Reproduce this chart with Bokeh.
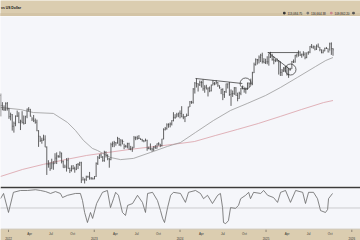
import pandas as pd
from bokeh.plotting import figure
from bokeh.models import Range1d, ColumnDataSource, Span
from bokeh.layouts import column
from bokeh.embed import file_html
from bokeh.resources import INLINE
from bokeh.core.properties import value

# ---------------- data (prices in thousands of USD, weekly bars) ----------------
first_week = "2021-11-29"
first_open = 57.3
close = [
    49.4, 46.7, 46.7, 50.8, 47.3,
    41.9, 43.1, 36.3, 37.9, 42.2, 42.2, 38.3, 39.1, 38.4, 37.8, 42.2, 46.8, 46.4,
    42.1, 40.4, 39.4, 38.5, 34.0, 31.3, 29.4, 29.4, 29.9, 26.6, 20.6, 20.7, 19.3,
    20.8, 20.8, 22.6, 23.3, 23.2, 24.4, 21.5, 19.6, 19.8, 21.8, 19.4, 18.8, 19.3,
    19.4, 19.2, 20.6, 20.6, 21.1, 16.3, 16.3, 16.5, 17.1, 17.1, 16.8, 16.8, 16.6,
    17.2, 20.9, 22.7, 23.7, 22.9, 21.8, 24.6, 23.6, 22.4, 22.1, 27.6, 28.0, 28.5,
    28.3, 30.3, 27.6, 29.2, 28.9, 26.9, 26.9, 28.0, 25.8, 25.9, 26.3, 30.5, 30.6,
    30.2, 30.3, 29.8, 29.3, 29.1, 29.4, 26.1, 26.0, 25.9, 25.8, 26.5, 26.2, 28.0,
    27.9, 27.2, 30.0, 34.5, 35.0, 37.1, 37.4, 37.5, 39.5, 41.4, 41.4, 43.0, 44.2,
    43.9, 41.7, 41.6, 42.0, 42.6, 48.3, 52.1, 51.7, 63.1, 68.9, 68.4, 67.2, 69.6,
    69.4, 63.4, 64.9, 63.1, 63.9, 61.5, 66.9, 68.5, 67.8, 69.6, 66.6, 64.3, 62.7,
    58.0, 60.7, 68.2, 68.2, 58.1, 58.7, 59.0, 64.2, 57.3, 54.8, 59.2, 63.6, 65.6,
    62.9, 62.9, 69.0, 68.2, 68.8, 80.4, 90.6, 97.7, 97.2, 101.2, 104.3, 95.1, 93.4,
    94.6,
    94.5, 101.3, 102.6, 97.7, 96.5, 96.1, 95.8, 94.3, 80.7, 82.6, 86.1, 82.3, 78.4,
    83.7, 85.2, 94.7, 94.3, 104.1, 106.5, 109.0, 104.6, 105.7, 105.6, 100.9, 108.4,
    109.2, 119.1, 117.3, 119.4, 114.1, 119.3, 117.4, 113.5, 108.2, 111.1, 115.3,
    115.2, 109.6, 123.5, 115.0, 113.1,
]
high = [
    59.0, 51.9, 49.5, 51.8, 52.0,
    47.6, 44.4, 43.5, 38.9, 42.6, 45.8, 44.7, 40.0, 45.4, 42.6, 42.3, 47.2, 48.2,
    47.0, 41.5, 42.9, 40.7, 40.0, 34.2, 31.3, 30.6, 32.0, 31.7, 26.9, 21.9, 21.2,
    22.4, 21.6, 24.3, 24.6, 23.6, 25.0, 24.5, 21.8, 20.5, 22.6, 22.7, 19.6, 20.3,
    20.4, 19.9, 20.7, 21.0, 21.4, 21.4, 17.1, 16.7, 17.4, 17.4, 18.4, 17.0, 16.9,
    17.3, 21.2, 23.3, 23.9, 24.2, 23.3, 25.2, 25.0, 23.9, 22.6, 28.4, 28.9, 29.2,
    28.6, 31.0, 30.5, 30.0, 29.8, 28.0, 27.5, 28.4, 28.4, 27.1, 26.8, 31.4, 31.2,
    31.5, 31.8, 30.3, 30.1, 29.5, 30.2, 29.7, 26.8, 28.1, 26.4, 27.0, 27.4, 28.1,
    28.6, 27.9, 30.1, 35.2, 35.9, 37.9, 37.9, 38.4, 39.7, 44.7, 43.4, 44.3, 44.3,
    45.9, 48.9, 43.6, 42.2, 43.8, 48.6, 52.8, 52.9, 64.0, 70.0, 73.8, 68.8, 71.6,
    71.3, 72.8, 66.8, 67.2, 64.7, 65.5, 67.4, 71.9, 70.1, 71.9, 70.0, 66.6, 63.4,
    63.8, 61.3, 68.4, 68.4, 70.0, 62.7, 61.7, 65.0, 64.9, 59.8, 60.6, 64.1, 66.4,
    64.8, 64.5, 69.4, 69.5, 73.6, 81.5, 93.4, 99.5, 98.7, 103.9, 106.5, 108.3, 99.8,
    99.0,
    102.7, 106.4, 109.6, 106.5, 102.5, 98.8, 99.5, 96.5, 95.0, 85.0, 87.4, 88.8, 88.5,
    86.1, 86.4, 95.8, 97.9, 104.9, 106.6, 111.9, 110.4, 106.8, 110.6, 108.9, 108.5,
    110.6, 119.5, 123.2, 120.2, 119.3, 122.3, 124.1, 117.6, 113.5, 113.4, 116.7,
    117.9, 115.2, 125.7, 126.2, 116.0,
]
low = [
    42.0, 46.0, 45.5, 45.6, 45.8,
    40.5, 39.6, 34.0, 33.0, 36.3, 41.7, 38.0, 34.3, 37.8, 37.2, 37.6, 40.9, 45.2,
    41.9, 39.2, 38.6, 37.7, 33.7, 26.7, 28.7, 28.0, 29.3, 26.6, 17.6, 19.6, 18.7,
    19.3, 19.0, 20.8, 20.7, 22.7, 22.7, 20.9, 19.6, 19.6, 18.5, 19.3, 18.1, 18.5,
    19.1, 18.2, 18.9, 19.2, 20.1, 15.6, 16.3, 15.5, 16.1, 16.9, 16.4, 16.4, 16.4,
    16.5, 17.1, 20.4, 22.3, 22.7, 21.4, 21.4, 22.8, 21.9, 19.6, 21.9, 26.6, 26.6,
    27.2, 28.0, 27.1, 26.9, 27.7, 25.8, 26.4, 26.1, 25.6, 25.4, 24.8, 26.3, 29.5,
    29.7, 30.0, 29.6, 28.9, 28.6, 29.0, 25.2, 25.8, 25.4, 24.9, 25.1, 26.0, 26.0,
    27.2, 26.6, 26.9, 29.9, 34.1, 34.5, 35.5, 35.7, 36.7, 39.0, 40.5, 41.6, 41.5,
    40.8, 41.5, 40.3, 38.6, 41.9, 42.3, 48.3, 50.6, 50.8, 59.0, 64.5, 60.8, 66.0,
    64.5, 61.5, 59.7, 62.8, 56.5, 60.2, 60.9, 66.6, 66.7, 67.8, 65.1, 63.4, 58.5,
    53.5, 55.3, 59.5, 63.6, 57.0, 49.1, 56.1, 57.8, 57.2, 52.6, 54.6, 57.6, 62.7,
    59.8, 58.9, 62.4, 65.1, 67.5, 66.8, 80.0, 89.4, 90.8, 92.3, 94.2, 92.2, 92.5,
    91.5,
    91.2, 89.3, 100.1, 96.2, 91.2, 94.1, 94.9, 78.2, 76.6, 76.6, 81.2, 81.6, 77.1,
    74.5, 83.1, 85.1, 92.9, 93.4, 100.8, 102.1, 103.1, 100.4, 102.6, 98.2, 99.7,
    105.1, 107.5, 115.8, 114.7, 112.0, 112.7, 116.9, 110.6, 107.3, 107.3, 110.6,
    114.4, 108.6, 111.5, 104.8, 103.5,
]

# slower moving average (grey)
ma_slow_dates = ["2021-11-28", "2022-02-21", "2022-04-17", "2022-07-11", "2022-09-09",
                 "2022-10-13", "2022-11-16", "2022-12-24", "2023-01-15", "2023-03-11",
                 "2023-04-23", "2023-06-17", "2023-08-29", "2023-11-09", "2024-01-03",
                 "2024-03-07", "2024-05-22", "2024-08-03", "2024-10-13", "2024-12-30",
                 "2025-03-03", "2025-05-14", "2025-07-31", "2025-09-12", "2025-10-13"]
ma_slow = [48.0, 46.5, 44.5, 43.9, 38.4, 34.1, 29.4, 26.1, 25.3, 22.8, 22.1, 22.5,
           24.6, 26.9, 28.5, 33.1, 39.5, 45.9, 50.9, 57.3, 64.5, 74.9, 88.2, 96.4, 100.8]

# long moving average (red)
ma_long_dates = ["2021-11-28", "2022-03-02", "2022-05-30", "2022-08-31", "2022-11-29",
                 "2023-03-02", "2023-05-31", "2023-09-01", "2023-11-30", "2024-03-02",
                 "2024-05-30", "2024-09-01", "2024-11-29", "2025-03-03", "2025-05-31",
                 "2025-09-03", "2025-10-13"]
ma_long = [17.2, 19.1, 20.6, 22.1, 23.5, 24.6, 25.7, 26.7, 27.7, 28.9, 31.6, 34.6,
           37.8, 42.0, 46.5, 51.6, 53.2]

# trend lines and circled points drawn on the chart
trend_x0 = ["2024-03-07", "2025-01-08", "2025-01-10"]
trend_y0 = [73.8, 108.5, 108.5]
trend_x1 = ["2024-09-22", "2025-05-19", "2025-04-15"]
trend_y1 = [68.5, 108.5, 84.0]
circle_dates = ["2024-10-06", "2025-04-15"]
circle_prices = [68.5, 84.3]

# oscillator (lower panel)
osc_dates = ["2021-11-28", "2021-12-11", "2022-01-01", "2022-01-22", "2022-02-21",
             "2022-03-23", "2022-04-26", "2022-05-17", "2022-06-08", "2022-06-29",
             "2022-07-20", "2022-08-10", "2022-08-19", "2022-09-09", "2022-10-13",
             "2022-11-03", "2022-11-12", "2022-11-21", "2022-12-03", "2022-12-16",
             "2022-12-25", "2023-01-11", "2023-02-05", "2023-02-26", "2023-03-11",
             "2023-03-24", "2023-04-02", "2023-04-14", "2023-05-01", "2023-05-14",
             "2023-05-23", "2023-06-13", "2023-07-04", "2023-07-25", "2023-08-07",
             "2023-08-16", "2023-09-06", "2023-09-27", "2023-10-10", "2023-10-19",
             "2023-10-27", "2023-11-09", "2023-11-22", "2023-12-04", "2024-01-03",
             "2024-01-24", "2024-02-06", "2024-03-07", "2024-03-28", "2024-04-10",
             "2024-04-27", "2024-05-18", "2024-06-09", "2024-06-21", "2024-06-30",
             "2024-07-04", "2024-07-13", "2024-07-25", "2024-08-03", "2024-08-24",
             "2024-09-06", "2024-09-15", "2024-10-06", "2024-10-19", "2024-10-27",
             "2024-11-09", "2024-12-09", "2024-12-22", "2025-01-08", "2025-02-02",
             "2025-02-19", "2025-03-04", "2025-03-25", "2025-04-15", "2025-05-07",
             "2025-06-06", "2025-06-18", "2025-07-01", "2025-07-22", "2025-08-08",
             "2025-08-21", "2025-09-11", "2025-09-20", "2025-09-24", "2025-10-11"]
osc = [75, 89, 38, 92, 97, 97, 99, 97, 94, 89, 94, 89, 78, 84, 89, 89, 70, 38, 11, 38,
       22, 62, 92, 97, 51, 75, 92, 84, 38, 30, 57, 62, 84, 65, 38, 89, 92, 70, 43, 22,
       11, 51, 84, 92, 89, 65, 92, 97, 89, 75, 84, 62, 84, 89, 51, 11, 8, 16, 51, 49,
       57, 75, 84, 92, 75, 92, 89, 97, 84, 78, 65, 92, 97, 65, 97, 92, 62, 92, 92, 75,
       43, 38, 46, 75, 89]
osc_mid = 50

# header texts and axis labels
title_text = "vs US Dollar"
legend_values = ["113,084.75", "116,664.38", "109,862.20"]
year_dates = ["2022-01-01", "2023-01-01", "2024-01-01", "2025-01-01", "2026-01-01"]
year_labels = ["2022", "2023", "2024", "2025", "2026"]
month_dates = ["2022-04-01", "2022-07-01", "2022-10-01", "2023-04-01", "2023-07-01",
               "2023-10-01", "2024-04-01", "2024-07-01", "2024-10-01", "2025-04-01",
               "2025-07-01", "2025-10-01"]
month_labels = ["Apr", "Jul", "Oct", "Apr", "Jul", "Oct", "Apr", "Jul", "Oct",
                "Apr", "Jul", "Oct"]

# ---------------- styling ----------------
FONT = value("Liberation Sans")
TAN = "#dbcdb0"
STRIPE = "#d3c4a6"
PLOT_BG = "#f5f6fa"
BAR = "#3c3c3c"
W = 360

x_range = Range1d(start=pd.Timestamp("2021-11-28"), end=pd.Timestamp("2026-02-07"))


def base_fig(h, **kw):
    f = figure(width=W, height=h, output_backend="svg", toolbar_location=None,
               x_axis_location=None, y_axis_location=None, min_border=0, **kw)
    f.outline_line_color = None
    f.xgrid.grid_line_color = None
    f.ygrid.grid_line_color = None
    return f


# header
hdr = base_fig(16, x_range=Range1d(0, W), y_range=Range1d(0, 16))
hdr.background_fill_color = TAN
hdr.border_fill_color = TAN
hdr.quad(left=[0], right=[W], bottom=[0], top=[3], color=STRIPE)
hdr.text(x=[0.5], y=[9], text=[title_text], text_font=FONT, text_font_size="3.4px",
         text_font_style="bold", text_baseline="middle", text_color="#111")
lx = [287, 310.5, 334]
hdr.scatter(x=[x - 3.2 for x in lx] + [353], y=[3.4] * 4, marker="square", size=1.6,
            color=["#333", "#777", "#c9848c", "#555"])
hdr.text(x=lx, y=[3.4] * 3, text=legend_values, text_font=FONT, text_font_size="3px",
         text_baseline="middle", text_color="#222")

# main price panel
dates = pd.date_range(first_week, periods=len(close), freq="7D")
opens = [first_open] + close[:-1]
src = ColumnDataSource(dict(
    x=dates, x0=dates - pd.Timedelta(days=2.5), x1=dates + pd.Timedelta(days=2.5),
    o=opens, h=high, l=low, c=close))
main = base_fig(170, x_range=x_range, y_range=Range1d(14.82, 185.4), y_axis_type="log")
main.background_fill_color = PLOT_BG
main.border_fill_color = PLOT_BG
main.line(pd.to_datetime(ma_long_dates), ma_long, line_color="#dba0a7", line_width=0.8)
main.line(pd.to_datetime(ma_slow_dates), ma_slow, line_color="#9a9a9a", line_width=0.8)
main.segment(x0="x", y0="l", x1="x", y1="h", source=src, line_color=BAR, line_width=0.8)
main.segment(x0="x0", y0="o", x1="x", y1="o", source=src, line_color=BAR, line_width=0.6)
main.segment(x0="x", y0="c", x1="x1", y1="c", source=src, line_color=BAR, line_width=0.6)
main.segment(x0=pd.to_datetime(trend_x0), y0=trend_y0, x1=pd.to_datetime(trend_x1),
             y1=trend_y1, line_color="#2a2a2a", line_width=0.7)
main.scatter(pd.to_datetime(circle_dates), circle_prices, marker="circle", size=11,
             fill_color=None, line_color="#2a2a2a", line_width=0.7)

# oscillator panel
oscf = base_fig(42, x_range=x_range, y_range=Range1d(-5, 102.3))
oscf.background_fill_color = PLOT_BG
oscf.min_border_top = 2
oscf.border_fill_color = "#3b3b3b"
oscf.add_layout(Span(location=osc_mid, dimension="width", line_color="#8a8a8a",
                     line_dash="1 1", line_width=0.8))
oscf.line(pd.to_datetime(osc_dates), osc, line_color="#666666", line_width=0.8)

# date axis band
band = base_fig(12, x_range=x_range, y_range=Range1d(0, 11))
band.background_fill_color = TAN
band.min_border_top = 1
band.border_fill_color = "#9a9386"
yd = pd.to_datetime(year_dates)
band.segment(x0=yd, y0=[11] * len(yd), x1=yd, y1=[8.5] * len(yd), line_color="#6b665c",
             line_width=0.7)
band.text(x=yd, y=[2.6] * len(yd), text=year_labels, text_font=FONT,
          text_font_size="3px", text_align="center", text_baseline="middle",
          text_color="#333")
band.text(x=pd.to_datetime(month_dates), y=[7] * len(month_dates), text=month_labels,
          text_font=FONT, text_font_size="3px", text_align="center",
          text_baseline="middle", text_color="#333")

layout = column(hdr, main, oscf, band, spacing=0)
open("out.html", "w").write(file_html(layout, INLINE))
